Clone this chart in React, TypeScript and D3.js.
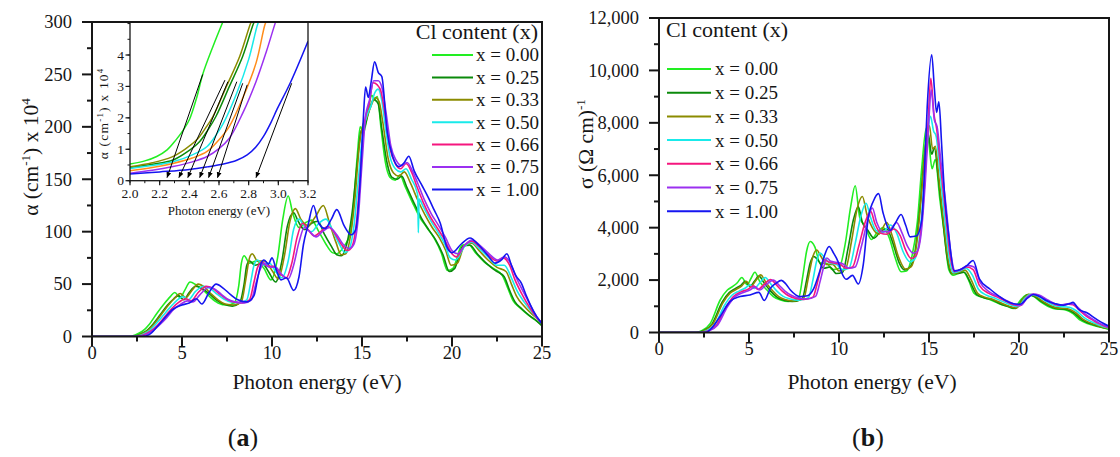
import React from "react";
import * as d3 from "d3";

type Pt = [number, number];

// ---------- series metadata ----------
const SERIES_LABELS = ["x = 0.00", "x = 0.25", "x = 0.33", "x = 0.50", "x = 0.66", "x = 0.75", "x = 1.00"];
const SERIES_COLORS = ["#22ee22", "#0b8a0b", "#8b8b00", "#19eaea", "#f5167e", "#9b30f0", "#1515f0"];
const INSET_COLORS = ["#22ee22", "#0b8a0b", "#8b8b00", "#19eaea", "#ff8c1a", "#9b30f0", "#1515f0"];

// ---------- tick values ----------
const ENERGY_TICKS = [0, 5, 10, 15, 20, 25];
const ALPHA_TICKS = [0, 50, 100, 150, 200, 250, 300];
const SIGMA_TICKS = [0, 2000, 4000, 6000, 8000, 10000, 12000];
const INSET_E_TICKS = [2.0, 2.2, 2.4, 2.6, 2.8, 3.0, 3.2];
const INSET_A_TICKS = [0, 1, 2, 3, 4];

// ---------- absorption coefficient α (×10^4 cm^-1) vs photon energy (eV) ----------
const ALPHA_000: Pt[] = [[0,0],[2.0,0],[2.4,1.5],[2.8,5],[3.2,12],[3.6,22],[4.0,31],[4.35,38],[4.6,42],[4.9,37],[5.15,44],[5.45,52],[5.8,49],[6.2,44],[6.6,37],[7.0,32],[7.5,30],[7.9,32],[8.15,48],[8.3,70],[8.45,77],[8.75,70],[9.15,72],[9.55,65],[9.95,54],[10.3,74],[10.6,112],[10.9,134],[11.15,118],[11.5,104],[11.9,109],[12.2,111],[12.6,100],[13.0,88],[13.35,80],[13.6,79],[14.0,86],[14.35,98],[14.55,130],[14.75,175],[14.9,200],[15.1,195],[15.3,212],[15.55,230],[15.7,226],[15.85,229],[16.05,200],[16.3,166],[16.55,152],[16.85,149],[17.1,154],[17.4,143],[17.8,128],[18.2,114],[18.6,104],[19.0,94],[19.4,80],[19.75,63],[20.05,65],[20.55,87],[20.9,88],[21.3,80],[21.8,71],[22.3,65],[22.8,58],[23.1,46],[23.4,34],[23.8,27],[24.2,21],[24.6,16],[25,11]];
const ALPHA_025: Pt[] = [[0,0],[2.2,0],[2.6,1.5],[3.0,5],[3.4,12],[3.8,21],[4.2,30],[4.55,36],[4.8,39],[5.1,35],[5.4,42],[5.75,48],[6.1,46],[6.5,41],[6.9,35],[7.3,31],[7.8,29],[8.2,32],[8.45,50],[8.6,68],[8.75,72],[9.05,68],[9.45,70],[9.8,62],[10.2,52],[10.55,72],[10.85,105],[11.2,118],[11.45,110],[11.8,102],[12.2,108],[12.55,110],[12.9,98],[13.3,86],[13.6,78],[13.85,77],[14.15,88],[14.45,118],[14.75,168],[14.95,196],[15.15,200],[15.4,216],[15.65,226],[15.9,222],[16.1,198],[16.4,165],[16.65,152],[16.95,150],[17.2,153],[17.5,142],[17.9,127],[18.3,113],[18.7,102],[19.1,92],[19.5,78],[19.85,62],[20.15,65],[20.6,86],[21.0,87],[21.4,79],[21.9,70],[22.4,63],[22.9,57],[23.2,44],[23.5,33],[23.9,26],[24.3,20],[24.7,15],[25,10]];
const ALPHA_033: Pt[] = [[0,0],[2.2,0],[2.65,1.5],[3.05,5],[3.45,12],[3.85,21],[4.25,30],[4.6,37],[4.9,41],[5.2,37],[5.55,44],[5.9,50],[6.25,47],[6.6,41],[7.0,35],[7.4,31],[7.9,30],[8.3,33],[8.55,55],[8.75,75],[8.9,79],[9.2,72],[9.6,72],[10.0,63],[10.35,55],[10.7,78],[11.0,110],[11.3,122],[11.6,112],[12.0,106],[12.4,114],[12.85,125],[13.2,108],[13.55,90],[13.85,78],[14.1,79],[14.35,95],[14.6,130],[14.85,182],[15.05,202],[15.25,208],[15.5,220],[15.75,228],[15.95,224],[16.15,205],[16.45,170],[16.75,156],[17.05,153],[17.35,157],[17.7,146],[18.1,130],[18.5,116],[18.9,104],[19.3,94],[19.65,82],[19.95,68],[20.3,70],[20.7,87],[21.1,89],[21.5,82],[22.0,73],[22.5,66],[23.0,62],[23.3,50],[23.6,38],[24.0,29],[24.4,22],[24.8,16],[25,12]];
const ALPHA_050: Pt[] = [[0,0],[2.3,0],[2.75,1.5],[3.15,5],[3.55,12],[3.95,20],[4.35,28],[4.75,35],[5.05,38],[5.35,35],[5.75,43],[6.2,48],[6.55,46],[6.9,41],[7.3,36],[7.7,33],[8.2,32],[8.6,35],[8.85,55],[9.0,68],[9.2,73],[9.5,68],[9.85,70],[10.2,62],[10.55,56],[10.9,72],[11.2,102],[11.5,112],[11.8,105],[12.2,100],[12.6,108],[13.0,112],[13.4,100],[13.75,88],[14.05,80],[14.3,84],[14.55,105],[14.8,150],[15.05,195],[15.3,212],[15.5,220],[15.7,232],[15.9,236],[16.1,225],[16.3,200],[16.55,172],[16.85,160],[17.15,157],[17.45,160],[17.75,150],[18.05,138],[18.1,134],[18.13,99],[18.17,131],[18.4,124],[18.8,111],[19.2,100],[19.6,88],[19.9,75],[20.2,73],[20.7,86],[21.1,90],[21.5,84],[22.0,76],[22.5,68],[22.9,68],[23.3,56],[23.6,44],[24.0,33],[24.4,24],[24.8,16],[25,13]];
const ALPHA_066: Pt[] = [[0,0],[2.4,0],[2.85,1.5],[3.25,5],[3.65,11],[4.05,19],[4.45,27],[4.85,33],[5.2,36],[5.5,34],[5.9,42],[6.35,48],[6.7,46],[7.05,41],[7.45,36],[7.85,33],[8.35,32],[8.75,35],[9.0,52],[9.2,66],[9.45,71],[9.75,67],[10.1,67],[10.45,60],[10.8,56],[11.1,70],[11.4,95],[11.7,108],[12.0,102],[12.35,96],[12.7,100],[13.1,105],[13.5,98],[13.85,88],[14.2,82],[14.45,86],[14.7,110],[14.95,165],[15.15,205],[15.4,222],[15.62,242],[15.85,240],[16.05,234],[16.3,210],[16.55,180],[16.85,165],[17.15,160],[17.45,165],[17.75,157],[18.05,143],[18.4,128],[18.8,114],[19.2,103],[19.6,92],[19.95,80],[20.25,76],[20.7,87],[21.1,91],[21.5,86],[22.0,78],[22.5,72],[22.85,75],[23.2,68],[23.5,54],[23.9,40],[24.3,28],[24.7,18],[25,13]];
const ALPHA_075: Pt[] = [[0,0],[2.5,0],[2.95,1.5],[3.35,5],[3.75,11],[4.15,18],[4.55,26],[4.95,31],[5.3,34],[5.6,33],[6.0,40],[6.5,47],[6.85,45],[7.2,40],[7.6,35],[8.0,33],[8.45,32],[8.85,35],[9.1,50],[9.3,62],[9.55,70],[9.85,66],[10.2,66],[10.55,59],[10.9,55],[11.2,68],[11.5,90],[11.8,104],[12.1,100],[12.45,95],[12.8,100],[13.2,104],[13.6,97],[13.95,88],[14.3,84],[14.55,88],[14.8,115],[15.0,165],[15.2,210],[15.42,226],[15.65,244],[15.9,244],[16.1,238],[16.35,212],[16.6,182],[16.9,168],[17.2,163],[17.5,166],[17.8,158],[18.1,146],[18.45,131],[18.85,117],[19.25,106],[19.65,94],[20.0,82],[20.3,79],[20.75,88],[21.1,92],[21.55,87],[22.05,79],[22.55,73],[22.9,76],[23.25,70],[23.55,57],[23.95,43],[24.35,30],[24.7,19],[25,13]];
const ALPHA_100: Pt[] = [[0,0],[2.8,0],[3.2,2],[3.6,9],[4.0,17],[4.5,26],[5.0,30],[5.4,32],[5.8,36],[6.1,31],[6.5,42],[6.9,50],[7.3,46],[7.7,40],[8.1,35],[8.6,33],[9.0,39],[9.2,55],[9.4,70],[9.55,73],[9.8,69],[10.0,75],[10.25,63],[10.5,54],[10.8,56],[11.2,44],[11.5,57],[11.75,88],[12.0,106],[12.3,125],[12.6,108],[12.95,103],[13.3,112],[13.6,121],[14.0,106],[14.4,97],[14.65,102],[14.9,150],[15.08,210],[15.2,238],[15.35,228],[15.5,242],[15.7,262],[15.9,252],[16.1,248],[16.4,195],[16.7,172],[17.05,162],[17.35,166],[17.6,172],[17.9,158],[18.3,145],[18.7,132],[19.0,121],[19.35,108],[19.7,86],[20.0,80],[20.5,88],[21.0,94],[21.5,87],[22.0,77],[22.4,70],[22.75,73],[23.05,79],[23.3,68],[23.55,58],[23.85,51],[24.15,38],[24.5,25],[25,12]];

// ---------- optical conductivity σ (Ω cm)^-1 vs photon energy (eV) ----------
const SIGMA_000: Pt[] = [[0,0],[2.0,0],[2.4,80],[2.85,350],[3.4,1240],[3.8,1620],[4.1,1760],[4.35,1900],[4.6,2100],[4.9,1820],[5.1,2050],[5.33,2300],[5.6,1940],[6.0,1620],[6.35,1370],[6.75,1240],[7.2,1180],[7.75,1300],[8.0,2200],[8.2,3100],[8.4,3470],[8.65,3280],[8.95,2650],[9.3,2640],[9.65,2400],[10.0,2450],[10.35,3400],[10.65,4800],[10.9,5600],[11.15,4400],[11.45,4050],[11.8,3550],[12.1,3800],[12.45,4000],[12.8,3600],[13.1,2900],[13.45,2320],[13.75,2350],[14.05,2900],[14.35,4200],[14.6,6300],[14.85,7800],[15.0,7200],[15.17,6250],[15.35,6600],[15.6,5100],[15.85,3800],[16.1,2400],[16.35,2190],[16.6,2250],[16.9,2320],[17.2,2000],[17.5,1500],[17.9,1350],[18.3,1280],[18.9,1100],[19.35,1000],[19.7,920],[20.1,1250],[20.45,1440],[20.8,1380],[21.2,1170],[21.9,920],[22.6,860],[23.0,720],[23.4,470],[23.8,340],[24.2,260],[24.6,190],[25,130]];
const SIGMA_025: Pt[] = [[0,0],[2.1,0],[2.5,80],[2.95,330],[3.5,1150],[3.9,1520],[4.25,1680],[4.55,1800],[4.8,1950],[5.05,1760],[5.3,1950],[5.55,2150],[5.85,1880],[6.2,1580],[6.55,1350],[6.95,1230],[7.4,1180],[7.95,1280],[8.2,2000],[8.4,2650],[8.6,2900],[8.85,2750],[9.15,2450],[9.5,2500],[9.85,2250],[10.2,2300],[10.5,3200],[10.8,4300],[11.07,4800],[11.3,4200],[11.6,3900],[11.95,3600],[12.3,3850],[12.65,3950],[13.0,3400],[13.35,2650],[13.65,2390],[13.95,2500],[14.25,3200],[14.5,4800],[14.75,6800],[14.95,7600],[15.15,6800],[15.3,7050],[15.5,6000],[15.75,4400],[16.0,2900],[16.25,2250],[16.55,2250],[16.95,2300],[17.3,1900],[17.65,1450],[18.05,1330],[18.5,1250],[19.0,1080],[19.45,980],[19.8,920],[20.2,1270],[20.5,1450],[20.85,1380],[21.3,1160],[22.0,930],[22.7,870],[23.1,720],[23.5,480],[23.9,350],[24.3,260],[24.7,180],[25,140]];
const SIGMA_033: Pt[] = [[0,0],[2.15,0],[2.55,80],[3.0,330],[3.55,1130],[3.95,1500],[4.3,1650],[4.6,1780],[4.85,1950],[5.1,1760],[5.4,2000],[5.65,2200],[5.95,1900],[6.3,1600],[6.65,1370],[7.05,1250],[7.5,1200],[8.05,1320],[8.3,2100],[8.55,2900],[8.76,3150],[9.0,2900],[9.3,2600],[9.65,2600],[10.0,2350],[10.35,2400],[10.7,3500],[11.0,4700],[11.3,5190],[11.55,4500],[11.85,4000],[12.2,3750],[12.65,4200],[12.95,3700],[13.3,2900],[13.7,2420],[14.0,2500],[14.3,3300],[14.55,5000],[14.8,7100],[15.02,7900],[15.2,7000],[15.35,7100],[15.55,5900],[15.8,4300],[16.05,2850],[16.3,2250],[16.6,2280],[17.0,2380],[17.35,2000],[17.7,1500],[18.1,1350],[18.6,1250],[19.1,1100],[19.5,990],[19.85,940],[20.25,1300],[20.55,1460],[20.9,1390],[21.35,1180],[22.05,950],[22.75,900],[23.15,760],[23.55,510],[23.95,370],[24.35,270],[24.7,190],[25,150]];
const SIGMA_050: Pt[] = [[0,0],[2.25,0],[2.65,70],[3.1,300],[3.65,1050],[4.05,1420],[4.45,1580],[4.8,1700],[5.05,1820],[5.3,1680],[5.6,1900],[5.9,2100],[6.2,1860],[6.55,1580],[6.9,1380],[7.3,1280],[7.75,1230],[8.3,1330],[8.55,2000],[8.75,2700],[8.95,3030],[9.2,2850],[9.5,2650],[9.85,2600],[10.2,2400],[10.55,2450],[10.9,3400],[11.2,4400],[11.5,4930],[11.75,4400],[12.05,3900],[12.4,3800],[12.85,4100],[13.2,3800],[13.55,3100],[13.94,2700],[14.2,2800],[14.45,3500],[14.7,5400],[14.9,7300],[15.08,8250],[15.25,7700],[15.4,7480],[15.6,6200],[15.85,4500],[16.1,2950],[16.35,2280],[16.65,2330],[17.05,2450],[17.4,2200],[17.75,1650],[18.2,1420],[18.7,1300],[19.2,1150],[19.6,1040],[19.95,990],[20.35,1320],[20.65,1460],[21.0,1400],[21.45,1210],[22.1,1000],[22.8,960],[23.2,820],[23.6,580],[24.0,420],[24.4,300],[24.75,210],[25,170]];
const SIGMA_066: Pt[] = [[0,0],[2.35,0],[2.75,70],[3.2,290],[3.75,1000],[4.15,1380],[4.55,1550],[4.95,1650],[5.25,1780],[5.5,1640],[5.85,1850],[6.2,2020],[6.5,1830],[6.85,1580],[7.2,1400],[7.6,1300],[8.05,1260],[8.55,1350],[8.8,1900],[9.0,2450],[9.17,2770],[9.4,2700],[9.7,2650],[10.05,2600],[10.4,2450],[10.75,2500],[11.1,3300],[11.45,4200],[11.76,4620],[12.0,4150],[12.3,3800],[12.65,3750],[13.05,3950],[13.4,3700],[13.7,3150],[14.0,2830],[14.25,2900],[14.5,3600],[14.75,5600],[14.95,8000],[15.1,9700],[15.28,8300],[15.42,7800],[15.62,6500],[15.9,4700],[16.15,3050],[16.4,2320],[16.7,2380],[17.1,2500],[17.45,2400],[17.8,1800],[18.3,1500],[18.8,1350],[19.3,1180],[19.7,1060],[20.05,1020],[20.45,1340],[20.75,1460],[21.1,1410],[21.55,1230],[22.2,1040],[22.75,1080],[23.0,1060],[23.35,850],[23.75,620],[24.15,450],[24.5,320],[24.8,230],[25,190]];
const SIGMA_075: Pt[] = [[0,0],[2.4,0],[2.8,70],[3.25,280],[3.8,980],[4.2,1350],[4.65,1520],[5.05,1620],[5.35,1740],[5.6,1620],[5.95,1820],[6.35,2000],[6.65,1820],[7.0,1580],[7.35,1420],[7.75,1320],[8.2,1280],[8.7,1380],[8.95,1950],[9.15,2500],[9.32,2840],[9.55,2720],[9.85,2680],[10.2,2620],[10.55,2450],[10.9,2500],[11.25,3300],[11.6,4300],[11.85,4750],[12.1,4200],[12.4,3850],[12.75,3850],[13.2,4200],[13.5,3800],[13.8,3300],[14.13,3030],[14.35,3100],[14.55,3700],[14.8,5800],[15.0,8200],[15.12,9260],[15.3,8100],[15.45,7850],[15.65,6600],[15.95,4800],[16.2,3100],[16.45,2350],[16.75,2400],[17.15,2550],[17.5,2500],[17.85,1900],[18.35,1550],[18.85,1380],[19.35,1200],[19.75,1080],[20.1,1040],[20.5,1360],[20.8,1470],[21.15,1420],[21.6,1240],[22.3,1050],[22.8,1100],[23.05,1080],[23.4,870],[23.8,640],[24.2,470],[24.55,330],[24.85,240],[25,200]];
const SIGMA_100: Pt[] = [[0,0],[2.6,0],[2.9,150],[3.4,620],[3.95,1190],[4.5,1370],[5.05,1430],[5.55,1530],[5.85,1220],[6.2,1700],[6.5,1880],[6.8,1990],[7.05,1850],[7.3,1620],[7.85,1370],[8.25,1400],[8.6,1680],[8.95,2380],[9.2,2950],[9.45,3280],[9.7,3030],[9.95,2700],[10.15,2280],[10.4,2030],[10.75,2180],[11.07,1850],[11.35,2600],[11.63,4400],[11.9,5000],[12.2,5300],[12.45,4560],[12.85,3900],[13.15,4200],[13.45,4500],[13.7,4100],[13.95,3650],[14.3,3680],[14.6,4300],[14.75,6200],[14.9,8600],[15.15,10600],[15.3,9300],[15.42,8400],[15.55,8800],[15.7,7200],[15.85,5400],[16.1,3700],[16.4,2350],[16.75,2400],[17.1,2550],[17.45,2750],[17.8,2050],[18.4,1650],[18.9,1380],[19.3,1200],[19.7,1100],[20.06,1080],[20.45,1300],[20.8,1450],[21.2,1350],[21.54,1210],[22.0,1100],[22.46,1040],[22.8,1100],[23.0,1150],[23.3,890],[23.75,760],[24.3,510],[24.65,360],[25,240]];

// ---------- inset: absorption edge, α (×10^4 cm^-1), 2.0–3.2 eV ----------
const EDGE_000: Pt[] = [[2.0,0.53],[2.1,0.63],[2.18,0.77],[2.25,0.98],[2.31,1.3],[2.36,1.62],[2.40,1.94],[2.45,2.65],[2.49,3.38],[2.56,4.28],[2.63,5.1]];
const EDGE_025: Pt[] = [[2.0,0.42],[2.15,0.52],[2.29,0.66],[2.38,0.9],[2.47,1.25],[2.53,1.65],[2.58,2.05],[2.67,3.0],[2.76,3.96],[2.83,4.97],[2.85,5.2]];
const EDGE_033: Pt[] = [[2.0,0.44],[2.15,0.57],[2.28,0.75],[2.37,1.0],[2.45,1.3],[2.51,1.68],[2.56,2.05],[2.65,3.0],[2.74,3.96],[2.81,4.97],[2.83,5.2]];
const EDGE_050: Pt[] = [[2.0,0.39],[2.15,0.48],[2.29,0.6],[2.42,0.82],[2.52,1.09],[2.58,1.45],[2.63,1.83],[2.72,2.79],[2.80,3.86],[2.86,4.97],[2.88,5.2]];
const EDGE_066: Pt[] = [[2.0,0.32],[2.15,0.42],[2.29,0.55],[2.42,0.72],[2.52,0.93],[2.6,1.3],[2.67,1.73],[2.76,2.63],[2.85,3.75],[2.91,4.97],[2.93,5.2]];
const EDGE_075: Pt[] = [[2.0,0.24],[2.15,0.33],[2.29,0.45],[2.42,0.6],[2.52,0.77],[2.6,1.02],[2.67,1.35],[2.76,2.15],[2.85,3.16],[2.92,4.12],[2.98,5.03],[3.0,5.3]];
const EDGE_100: Pt[] = [[2.0,0.21],[2.2,0.28],[2.4,0.36],[2.52,0.44],[2.63,0.53],[2.72,0.65],[2.79,0.82],[2.85,1.08],[2.90,1.41],[2.95,1.85],[2.99,2.26],[3.08,3.11],[3.2,4.44]];

// Tangent extrapolations: point on the edge and the band-gap intercept (eV)
const TANGENT_POINTS: Pt[] = [[2.49,3.38],[2.64,3.2],[2.66,3.15],[2.72,3.15],[2.76,3.1],[2.79,3.05],[3.09,3.1]];
const BAND_GAPS = [2.25, 2.33, 2.39, 2.47, 2.53, 2.59, 2.85];

const ALPHA_SERIES = [ALPHA_000, ALPHA_025, ALPHA_033, ALPHA_050, ALPHA_066, ALPHA_075, ALPHA_100];
const SIGMA_SERIES = [SIGMA_000, SIGMA_025, SIGMA_033, SIGMA_050, SIGMA_066, SIGMA_075, SIGMA_100];
const EDGE_SERIES = [EDGE_000, EDGE_025, EDGE_033, EDGE_050, EDGE_066, EDGE_075, EDGE_100];

// ---------- layout ----------
const W = 1120;
const H = 457;
const FONT = "Liberation Serif, Times New Roman, serif";
const INK = "#161616";

type Box = { left: number; right: number; top: number; bottom: number };
const BOX_A: Box = { left: 92, right: 542, top: 22, bottom: 336.5 };
const BOX_B: Box = { left: 659, right: 1109, top: 18, bottom: 332.5 };
const BOX_I: Box = { left: 130, right: 308, top: 22, bottom: 180.7 };

const xA = d3.scaleLinear().domain([0, 25]).range([BOX_A.left, BOX_A.right]);
const yA = d3.scaleLinear().domain([0, 300]).range([BOX_A.bottom, BOX_A.top]);
const xB = d3.scaleLinear().domain([0, 25]).range([BOX_B.left, BOX_B.right]);
const yB = d3.scaleLinear().domain([0, 12000]).range([BOX_B.bottom, BOX_B.top]);
const xI = d3.scaleLinear().domain([2.0, 3.2]).range([BOX_I.left, BOX_I.right]);
const yI = d3.scaleLinear().domain([0, 5.05]).range([BOX_I.bottom, BOX_I.top]);

function pathFor(pts: Pt[], x: d3.ScaleLinear<number, number>, y: d3.ScaleLinear<number, number>, curve: d3.CurveFactory) {
  return d3.line<Pt>().x((d) => x(d[0])).y((d) => y(d[1])).curve(curve)(pts) || "";
}

function midpoints(ticks: number[]) {
  const out: number[] = [];
  for (let i = 0; i < ticks.length - 1; i++) out.push((ticks[i] + ticks[i + 1]) / 2);
  return out;
}

function MainAxes({ box, x, y, yTicks, fmt }: { box: Box; x: d3.ScaleLinear<number, number>; y: d3.ScaleLinear<number, number>; yTicks: number[]; fmt: (v: number) => string }) {
  return (
    <g>
      {ENERGY_TICKS.map((t) => (
        <g key={"xt" + t}>
          <line x1={x(t)} x2={x(t)} y1={box.bottom} y2={box.bottom + 10} stroke={INK} strokeWidth={2} />
          <text x={x(t)} y={box.bottom + 22} textAnchor="middle" fontSize={18.5} fill={INK}>{t}</text>
        </g>
      ))}
      {midpoints(ENERGY_TICKS).map((t) => (
        <line key={"xm" + t} x1={x(t)} x2={x(t)} y1={box.bottom} y2={box.bottom + 5} stroke={INK} strokeWidth={2} />
      ))}
      {yTicks.map((t) => (
        <g key={"yt" + t}>
          <line x1={box.left - 10} x2={box.left} y1={y(t)} y2={y(t)} stroke={INK} strokeWidth={2} />
          <text x={box.left - 20} y={y(t)} dy="0.34em" textAnchor="end" fontSize={18.5} fill={INK}>{fmt(t)}</text>
        </g>
      ))}
      {midpoints(yTicks).map((t) => (
        <line key={"ym" + t} x1={box.left - 5} x2={box.left} y1={y(t)} y2={y(t)} stroke={INK} strokeWidth={2} />
      ))}
      <rect x={box.left} y={box.top} width={box.right - box.left} height={box.bottom - box.top} fill="none" stroke={INK} strokeWidth={2} />
    </g>
  );
}

function Legend({ titleX, titleY, anchor, lineX0, lineX1, textX, rowY0, rowStep }: { titleX: number; titleY: number; anchor: "start" | "end"; lineX0: number; lineX1: number; textX: number; rowY0: number; rowStep: number }) {
  return (
    <g fill={INK}>
      <text x={titleX} y={titleY} textAnchor={anchor} fontSize={22}>Cl content (x)</text>
      {SERIES_LABELS.map((lab, i) => {
        const yy = rowY0 + i * rowStep;
        return (
          <g key={lab}>
            <line x1={lineX0} x2={lineX1} y1={yy} y2={yy} stroke={SERIES_COLORS[i]} strokeWidth={2} />
            <text x={textX} y={yy} dy="0.34em" fontSize={19}>{lab}</text>
          </g>
        );
      })}
    </g>
  );
}

function Inset() {
  const b = BOX_I;
  const minorE = d3.range(2.0, 3.2001, 0.1);
  const minorA = d3.range(0, 5.01, 0.5);
  return (
    <g>
      <rect x={b.left} y={b.top} width={b.right - b.left} height={b.bottom - b.top} fill="#fff" />
      <g clipPath="url(#clipInset)">
        {EDGE_SERIES.map((s, i) => (
          <path key={i} d={pathFor(s, xI, yI, d3.curveCatmullRom.alpha(0.5))} fill="none" stroke={INSET_COLORS[i]} strokeWidth={1.5} />
        ))}
        {TANGENT_POINTS.map((p, i) => (
          <line key={"ar" + i} x1={xI(p[0])} y1={yI(p[1])} x2={xI(BAND_GAPS[i])} y2={yI(0.1)} stroke="#000" strokeWidth={1} markerEnd="url(#arrowHead)" />
        ))}
      </g>
      <rect x={b.left} y={b.top} width={b.right - b.left} height={b.bottom - b.top} fill="none" stroke={INK} strokeWidth={1.3} />
      {minorE.map((t) => (
        <line key={"iem" + t.toFixed(1)} x1={xI(t)} x2={xI(t)} y1={b.bottom} y2={b.bottom + 2.5} stroke={INK} strokeWidth={1} />
      ))}
      {INSET_E_TICKS.map((t) => (
        <g key={"ie" + t}>
          <line x1={xI(t)} x2={xI(t)} y1={b.bottom} y2={b.bottom + 4.5} stroke={INK} strokeWidth={1.2} />
          <text x={xI(t)} y={b.bottom + 17} textAnchor="middle" fontSize={13.5} fill={INK}>{t.toFixed(1)}</text>
        </g>
      ))}
      {minorA.map((t) => (
        <line key={"iam" + t} x1={b.left - 2.5} x2={b.left} y1={yI(t)} y2={yI(t)} stroke={INK} strokeWidth={1} />
      ))}
      {INSET_A_TICKS.map((t) => (
        <g key={"ia" + t}>
          <line x1={b.left - 4.5} x2={b.left} y1={yI(t)} y2={yI(t)} stroke={INK} strokeWidth={1.2} />
          <text x={b.left - 6} y={yI(t)} dy="0.34em" textAnchor="end" fontSize={13.5} fill={INK}>{t}</text>
        </g>
      ))}
      <text x={(b.left + b.right) / 2} y={b.bottom + 34} textAnchor="middle" fontSize={13} fill={INK}>Photon energy (eV)</text>
      <text transform={`translate(${b.left - 22},${(b.top + b.bottom) / 2 + 12}) rotate(-90)`} textAnchor="middle" fontSize={13.5} letterSpacing={1.2} fill={INK}>
        α (cm<tspan dy={-5} fontSize={9}>-1</tspan><tspan dy={5}>) x 10</tspan><tspan dy={-5} fontSize={9}>4</tspan>
      </text>
    </g>
  );
}

export default function App() {
  const sigmaFmt = d3.format(",");
  return (
    <svg width={W} height={H} viewBox={`0 0 ${W} ${H}`} fontFamily={FONT} style={{ position: "absolute", left: 0, top: 0, background: "#fff", fontFamily: FONT }}>
      <defs>
        <clipPath id="clipA"><rect x={BOX_A.left} y={BOX_A.top} width={BOX_A.right - BOX_A.left} height={BOX_A.bottom - BOX_A.top} /></clipPath>
        <clipPath id="clipB"><rect x={BOX_B.left} y={BOX_B.top} width={BOX_B.right - BOX_B.left} height={BOX_B.bottom - BOX_B.top} /></clipPath>
        <clipPath id="clipInset"><rect x={BOX_I.left} y={BOX_I.top} width={BOX_I.right - BOX_I.left} height={BOX_I.bottom - BOX_I.top} /></clipPath>
        <marker id="arrowHead" viewBox="0 0 10 10" refX="9" refY="5" markerWidth="6" markerHeight="6" orient="auto" markerUnits="strokeWidth">
          <path d="M0,1 L10,5 L0,9 z" fill="#000" />
        </marker>
      </defs>
      <rect x={0} y={0} width={W} height={H} fill="#fff" />

      {/* (a) absorption coefficient */}
      <g clipPath="url(#clipA)">
        {ALPHA_SERIES.map((s, i) => (
          <path key={i} d={pathFor(s, xA, yA, d3.curveMonotoneX)} fill="none" stroke={SERIES_COLORS[i]} strokeWidth={1.6} strokeLinejoin="round" />
        ))}
      </g>
      <Inset />
      <MainAxes box={BOX_A} x={xA} y={yA} yTicks={ALPHA_TICKS} fmt={(v) => String(v)} />
      <Legend titleX={538} titleY={39} anchor="end" lineX0={432} lineX1={473} textX={476} rowY0={55} rowStep={22.4} />
      <text x={(BOX_A.left + BOX_A.right) / 2} y={389} textAnchor="middle" fontSize={21.5} fill={INK}>Photon energy (eV)</text>
      <text transform="translate(38,157) rotate(-90)" textAnchor="middle" fontSize={21.5} fill={INK}>
        α (cm<tspan dy={-8} fontSize={13}>-1</tspan><tspan dy={8}>) x 10</tspan><tspan dy={-8} fontSize={13}>4</tspan>
      </text>
      <text x={243} y={446} textAnchor="middle" fontSize={26} fill={INK}>
        (<tspan fontWeight="bold">a</tspan>)
      </text>

      {/* (b) optical conductivity */}
      <g clipPath="url(#clipB)">
        {SIGMA_SERIES.map((s, i) => (
          <path key={i} d={pathFor(s, xB, yB, d3.curveMonotoneX)} fill="none" stroke={SERIES_COLORS[i]} strokeWidth={1.6} strokeLinejoin="round" />
        ))}
      </g>
      <MainAxes box={BOX_B} x={xB} y={yB} yTicks={SIGMA_TICKS} fmt={sigmaFmt} />
      <Legend titleX={666} titleY={37} anchor="start" lineX0={667} lineX1={711} textX={715} rowY0={69} rowStep={23.7} />
      <text x={872} y={389} textAnchor="middle" fontSize={21.5} fill={INK}>Photon energy (eV)</text>
      <text transform="translate(593,144) rotate(-90)" textAnchor="middle" fontSize={21.5} fill={INK}>
        σ (Ω cm)<tspan dy={-8} fontSize={13}>-1</tspan>
      </text>
      <text x={868} y={446} textAnchor="middle" fontSize={26} fill={INK}>
        (<tspan fontWeight="bold">b</tspan>)
      </text>
    </svg>
  );
}
